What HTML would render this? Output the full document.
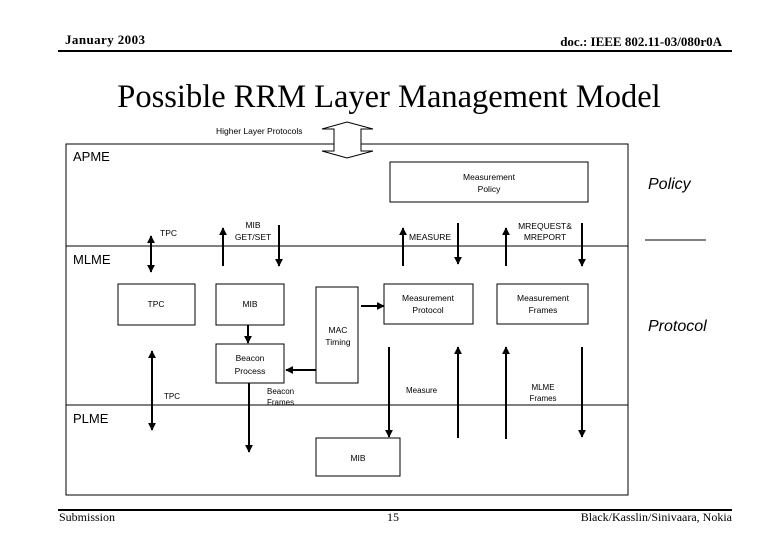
<!DOCTYPE html>
<html><head><style>
html,body{margin:0;padding:0;background:#fff;}
svg{display:block;}
.s{font-family:"Liberation Sans",sans-serif;font-size:8.5px;fill:#000;}
.t{font-family:"Liberation Serif",serif;fill:#000;}
</style></head><body>
<svg width="780" height="540" viewBox="0 0 780 540" xmlns="http://www.w3.org/2000/svg">
<defs>
<marker id="a" viewBox="0 0 10 10" refX="9" refY="5" markerWidth="4" markerHeight="4" orient="auto-start-reverse"><path d="M0,0 L10,5 L0,10 z" fill="#000"/></marker>
</defs>
<text class="t" x="65" y="44" font-size="13" font-weight="bold" textLength="80">January 2003</text>
<text class="t" x="722" y="46" font-size="13" font-weight="bold" text-anchor="end">doc.: IEEE 802.11-03/080r0A</text>
<rect x="58" y="50" width="674" height="2" fill="#000"/>
<text class="t" x="389" y="107" font-size="32.5" text-anchor="middle">Possible RRM Layer Management Model</text>

<text class="s" x="216" y="134" font-size="9.8">Higher Layer Protocols</text>
<path d="M347,122 L373,129 L361,129 L361,151 L373,151 L347,158 L322,151 L334,151 L334,129 L322,129 Z" fill="#fff" stroke="#000" stroke-width="1"/>

<g fill="none" stroke="#000" stroke-width="1">
<path d="M334,144 L66,144 L66,495 L628,495 L628,144 L361,144"/>
<line x1="66" y1="246" x2="628" y2="246"/>
<line x1="66" y1="405" x2="628" y2="405"/>
<rect x="390" y="162" width="198" height="40"/>
<rect x="118" y="284" width="77" height="41"/>
<rect x="216" y="284" width="68" height="41"/>
<rect x="316" y="287" width="42" height="96"/>
<rect x="384" y="284" width="89" height="40"/>
<rect x="497" y="284" width="91" height="40"/>
<rect x="216" y="344" width="68" height="39"/>
<rect x="316" y="438" width="84" height="38"/>
<line x1="645" y1="240" x2="706" y2="240"/>
</g>
<g stroke="#000" stroke-width="2" marker-end="url(#a)">
<line x1="151" y1="236" x2="151" y2="272" marker-start="url(#a)"/>
<line x1="223" y1="266" x2="223" y2="228"/>
<line x1="279" y1="225" x2="279" y2="266"/>
<line x1="403" y1="266" x2="403" y2="228"/>
<line x1="458" y1="223" x2="458" y2="264"/>
<line x1="506" y1="266" x2="506" y2="228"/>
<line x1="582" y1="223" x2="582" y2="266"/>
<line x1="361" y1="306" x2="384" y2="306"/>
<line x1="248" y1="325" x2="248" y2="343"/>
<line x1="316" y1="370" x2="286" y2="370"/>
<line x1="152" y1="351" x2="152" y2="430" marker-start="url(#a)"/>
<line x1="249" y1="383" x2="249" y2="452"/>
<line x1="389" y1="347" x2="389" y2="437"/>
<line x1="458" y1="438" x2="458" y2="347"/>
<line x1="506" y1="439" x2="506" y2="347"/>
<line x1="582" y1="347" x2="582" y2="437"/>
</g>

<g class="s">
<text x="73" y="161" font-size="13">APME</text>
<text x="73" y="264" font-size="13">MLME</text>
<text x="73" y="423" font-size="13">PLME</text>
<text x="489" y="180" text-anchor="middle">Measurement</text>
<text x="489" y="192" text-anchor="middle">Policy</text>
<text x="160" y="236">TPC</text>
<text x="253" y="228" text-anchor="middle">MIB</text>
<text x="253" y="240" text-anchor="middle">GET/SET</text>
<text x="409" y="240">MEASURE</text>
<text x="545" y="229" text-anchor="middle">MREQUEST&amp;</text>
<text x="545" y="240" text-anchor="middle">MREPORT</text>
<text x="156" y="307" text-anchor="middle">TPC</text>
<text x="250" y="307" text-anchor="middle">MIB</text>
<text x="338" y="333" text-anchor="middle">MAC</text>
<text x="338" y="345" text-anchor="middle">Timing</text>
<text x="428" y="301" text-anchor="middle">Measurement</text>
<text x="428" y="313" text-anchor="middle">Protocol</text>
<text x="543" y="301" text-anchor="middle">Measurement</text>
<text x="543" y="313" text-anchor="middle">Frames</text>
<text x="250" y="361" text-anchor="middle">Beacon</text>
<text x="250" y="374" text-anchor="middle">Process</text>
<text x="164" y="399" font-size="8">TPC</text>
<text x="267" y="394" font-size="8">Beacon</text>
<text x="267" y="405" font-size="8">Frames</text>
<text x="406" y="393" font-size="8">Measure</text>
<text x="543" y="390" font-size="8" text-anchor="middle">MLME</text>
<text x="543" y="401" font-size="8" text-anchor="middle">Frames</text>
<text x="358" y="461" text-anchor="middle">MIB</text>
<text x="648" y="189" font-size="16" font-style="italic">Policy</text>
<text x="648" y="331" font-size="16" font-style="italic">Protocol</text>
</g>

<rect x="58" y="509" width="674" height="2" fill="#000"/>
<text class="t" x="59" y="521" font-size="12">Submission</text>
<text class="t" x="393" y="521" font-size="12" text-anchor="middle">15</text>
<text class="t" x="732" y="521" font-size="12" text-anchor="end">Black/Kasslin/Sinivaara, Nokia</text>
</svg>
</body></html>
